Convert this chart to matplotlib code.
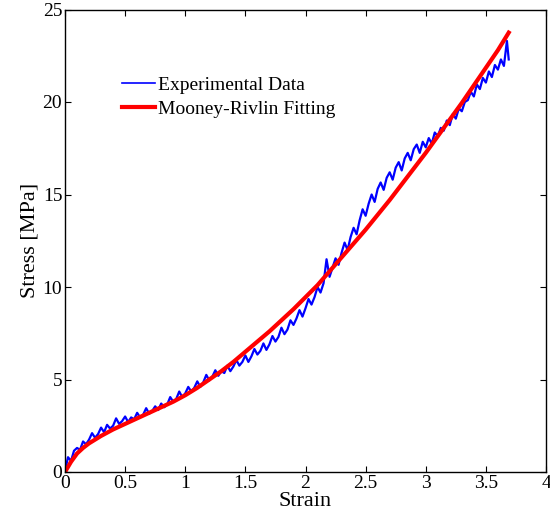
import numpy as np
import matplotlib
matplotlib.use('Agg')
import matplotlib.pyplot as plt

plt.rcParams['font.family'] = ['Liberation Serif', 'DejaVu Serif']

# experimental curve, stress read every 0.025 strain, last point at 3.69
exp_step = 0.025
exp_stress = [
    0.05, 0.80, 0.60, 1.15, 1.30, 1.20, 1.65, 1.50, 1.75, 2.10,
    1.85, 2.05, 2.40, 2.15, 2.55, 2.35, 2.50, 2.90, 2.60, 2.75,
    3.00, 2.70, 2.95, 2.85, 3.20, 2.95, 3.10, 3.45, 3.15, 3.30,
    3.55, 3.35, 3.70, 3.50, 3.65, 4.05, 3.80, 3.95, 4.35, 4.05,
    4.25, 4.60, 4.35, 4.55, 4.90, 4.60, 4.85, 5.25, 4.95, 5.15,
    5.50, 5.20, 5.45, 5.35, 5.75, 5.45, 5.70, 6.05, 5.75, 5.95,
    6.30, 5.95, 6.25, 6.65, 6.35, 6.55, 6.95, 6.60, 6.90, 7.35,
    7.05, 7.30, 7.80, 7.45, 7.70, 8.20, 7.95, 8.30, 8.75, 8.40,
    8.85, 9.35, 9.05, 9.45, 10.00, 9.70, 10.20, 11.50, 10.55, 11.05,
    11.55, 11.20, 11.85, 12.40, 12.00, 12.70, 13.20, 12.85, 13.60, 14.20,
    13.85, 14.50, 15.00, 14.60, 15.30, 15.65, 15.25, 15.90, 16.20, 15.80,
    16.45, 16.75, 16.30, 16.95, 17.25, 16.85, 17.45, 17.70, 17.25, 17.85,
    17.55, 18.05, 17.75, 18.35, 18.15, 18.60, 18.45, 19.00, 18.75, 19.35,
    19.10, 19.65, 19.50, 20.00, 20.10, 20.55, 20.30, 20.95, 20.70, 21.30,
    21.05, 21.65, 21.35, 22.00, 21.75, 22.30, 21.95, 23.30,
]
exp_strain = list(np.arange(len(exp_stress)) * exp_step) + [3.69]
exp_stress = exp_stress + [22.30]

# Mooney-Rivlin fit
fit_strain = [0, 0.05, 0.1, 0.15, 0.2, 0.3, 0.4, 0.5, 0.6, 0.7, 0.8, 0.9, 1.0,
              1.1, 1.2, 1.3, 1.4, 1.5, 1.6, 1.7, 1.8, 1.9, 2.0, 2.1, 2.2, 2.3,
              2.4, 2.5, 2.6, 2.7, 2.8, 2.9, 3.0, 3.1, 3.2, 3.3, 3.4, 3.5, 3.6, 3.69]
fit_stress = [0, 0.55, 1.0, 1.3, 1.55, 1.95, 2.3, 2.6, 2.9, 3.2, 3.5, 3.8, 4.15,
              4.55, 5.0, 5.45, 5.95, 6.5, 7.05, 7.6, 8.2, 8.8, 9.45, 10.1, 10.85, 11.6,
              12.35, 13.1, 13.9, 14.7, 15.55, 16.4, 17.25, 18.15, 19.05, 19.95, 20.9,
              21.85, 22.8, 23.75]

fig = plt.figure(figsize=(5.5, 5.24), dpi=100)
ax = fig.add_axes((65/550, 52/524, 481/550, 462.5/524))

ax.plot(exp_strain, exp_stress, color='#0000ff', lw=1.6, label='Experimental Data')
ax.plot(fit_strain, fit_stress, color='#ff0000', lw=3, label='Mooney-Rivlin Fitting')

ax.set_xlim(0, 4)
ax.set_ylim(0, 25)
ax.set_xticks([0, 0.5, 1, 1.5, 2, 2.5, 3, 3.5, 4])
ax.set_xticklabels(['0', '0.5', '1', '1.5', '2', '2.5', '3', '3.5', '4'])
ax.set_yticks([0, 5, 10, 15, 20, 25])
ax.tick_params(direction='in', top=True, right=True, length=4, labelsize=14, pad=2)
for s in ax.spines.values():
    s.set_linewidth(1.0)

ax.set_xlabel('Strain', fontsize=16, labelpad=0)
ax.set_ylabel('Stress [MPa]', fontsize=16, labelpad=2)

leg = ax.legend(loc='upper left', bbox_to_anchor=(0.118, 0.855), frameon=False,
                fontsize=14, handlelength=1.7, handletextpad=0.15, labelspacing=0.3,
                borderpad=0, borderaxespad=0)
leg.get_lines()[0].set_linewidth(1.2)

fig.savefig('out.png', dpi=100)
